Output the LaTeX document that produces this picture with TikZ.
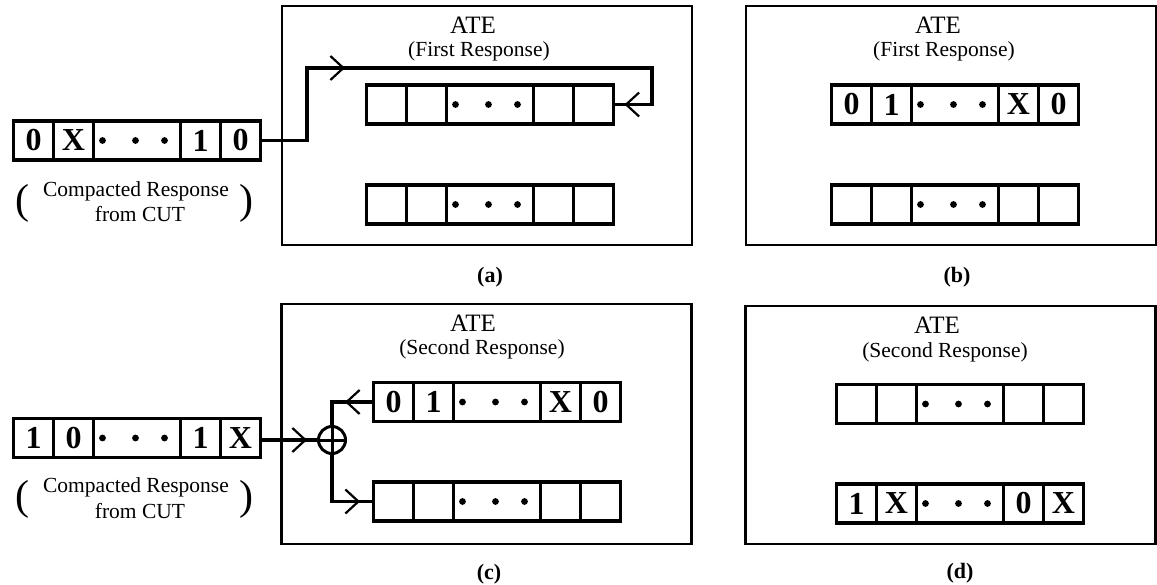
\documentclass[tikz,border=0pt]{standalone}
\usepackage{fontspec}
\setmainfont{Liberation Serif}
\usetikzlibrary{arrows.meta,decorations.markings}

\tikzset{
  chev/.tip={Straight Barb[length=13pt,width=24pt,line width=2.2pt]},
  cell/.style={draw, line width=3.2pt, minimum height=39pt, inner sep=0pt, outer sep=0pt,
    anchor=west, font=\fontsize{32}{32}\selectfont\bfseries},
  wire/.style={line width=3.2pt},
  atebox/.style={draw, line width=2.4pt, inner sep=0pt, minimum width=410pt},
  atetitle/.style={inner sep=0pt, font=\fontsize{25}{25}\selectfont},
  atesub/.style={inner sep=0pt, font=\fontsize{21.5}{21.5}\selectfont},
  cmptext/.style={inner sep=0pt, anchor=base, font=\fontsize{21.5}{21.5}\selectfont},
  bigparen/.style={inner sep=0pt, font=\fontsize{42}{42}\selectfont},
  caption/.style={inner sep=0pt, font=\fontsize{22}{22}\selectfont\bfseries},
  xor/.style={circle, draw, line width=3pt, minimum size=27pt, inner sep=0pt,
    path picture={\draw[line width=3pt] (path picture bounding box.north) -- (path picture bounding box.south)
      (path picture bounding box.west) -- (path picture bounding box.east);}},
}

\newcommand{\shreg}[7]{%
  \node[cell, minimum width=40pt] (#1-1) at (#2,#3) {#4};
  \node[cell, minimum width=40pt] (#1-2) at (#1-1.east) {#5};
  \node[cell, minimum width=87pt] (#1-3) at (#1-2.east) {};
  \node[cell, minimum width=40pt] (#1-4) at (#1-3.east) {#6};
  \node[cell, minimum width=40pt] (#1-5) at (#1-4.east) {#7};
  \foreach \dx in {9,42,71} \fill (#1-3.west) ++(\dx,0) circle (3.4pt);
}

\begin{document}
\begin{tikzpicture}[x=1pt,y=-1pt]
\useasboundingbox (0,0) rectangle (1157,585);

% ---------- (a) ----------
\node[atebox, minimum height=239pt] (boxa) at (487,125.5) {};
\node[atetitle] (atea) at (473,25) {ATE};
\node[atesub] (suba) at (479,51) {(First Response)};
\shreg{la}{13.5}{140.5}{0}{X}{1}{0}
\shreg{a1}{366.5}{104.5}{}{}{}{}
\shreg{a2}{366.5}{204.5}{}{}{}{}
\node[cmptext] (cmpa1) at (136,197) {Compacted Response};
\node[cmptext] (cmpa2) at (140,222) {from CUT};
\node[bigparen] (pla) at (22,203.5) {(};
\node[bigparen] (pra) at (246,203.5) {)};
\coordinate (wa1) at (307,68);
\coordinate (wa2) at (652,68);
\draw[wire, postaction={decorate}, decoration={markings,
    mark=at position 157pt with {\arrow{chev}},
    mark=at position -11pt with {\arrow{chev}}}]
  (la-5.east) -| (wa1) -- (wa2) |- (a1-5.east);
\node[caption] (capa) at (490,277) {(a)};

% ---------- (b) ----------
\node[atebox, minimum height=239pt] (boxb) at (951,125.5) {};
\node[atetitle] (ateb) at (938,25) {ATE};
\node[atesub] (subb) at (944,51) {(First Response)};
\shreg{b1}{831.5}{104.5}{0}{1}{X}{0}
\shreg{b2}{831.5}{204.5}{}{}{}{}
\node[caption] (capb) at (957,277) {(b)};

% ---------- (c) ----------
\node[atebox, minimum height=240pt] (boxc) at (486.5,424) {};
\node[atetitle] (atec) at (473,323.5) {ATE};
\node[atesub] (subc) at (482,349) {(Second Response)};
\shreg{lc}{13.5}{438}{1}{0}{1}{X}
\shreg{c1}{373.5}{402}{0}{1}{X}{0}
\shreg{c2}{373.5}{501.5}{}{}{}{}
\node[cmptext] (cmpc1) at (136,492) {Compacted Response};
\node[cmptext] (cmpc2) at (140,518) {from CUT};
\node[bigparen] (plc) at (22,499.5) {(};
\node[bigparen] (prc) at (246,499.5) {)};
\node[xor] (xor) at (332,440) {};
\draw[wire, postaction={decorate}, decoration={markings,
    mark=at position -10pt with {\arrow{chev}}}]
  (lc-5.east |- xor.west) -- (xor.west);
\draw[wire, postaction={decorate}, decoration={markings,
    mark=at position 28.5pt with {\arrow{chev}}}]
  (c1-1.west) -| (xor.north);
\draw[wire, postaction={decorate}, decoration={markings,
    mark=at position -13.5pt with {\arrow{chev}}}]
  (xor.south) |- (c2-1.west);
\node[caption] (capc) at (489,574) {(c)};

% ---------- (d) ----------
\node[atebox, minimum height=238pt] (boxd) at (950.5,425) {};
\node[atetitle] (ated) at (937,325) {ATE};
\node[atesub] (subd) at (945,352) {(Second Response)};
\shreg{d1}{836.5}{404}{}{}{}{}
\shreg{d2}{836.5}{503.5}{1}{X}{0}{X}
\node[caption] (capd) at (960,573) {(d)};
\end{tikzpicture}
\end{document}
